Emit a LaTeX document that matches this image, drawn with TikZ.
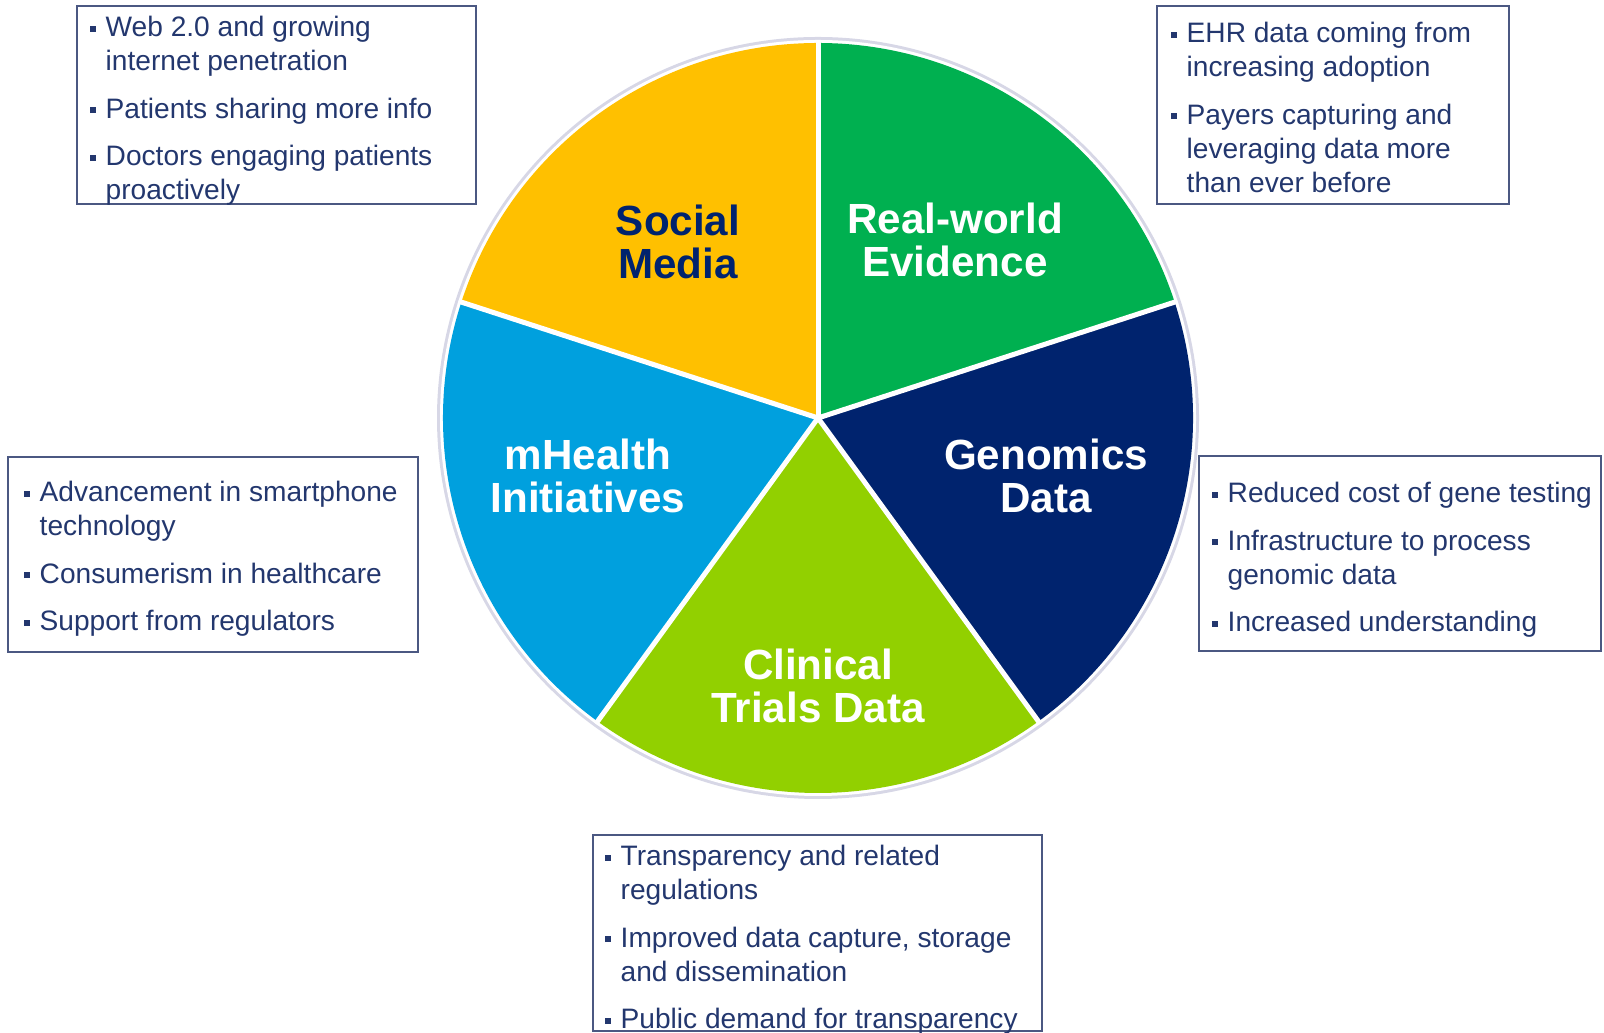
\documentclass[tikz,border=0pt]{standalone}
\usepackage{fontspec}
\setmainfont{Liberation Sans}

\definecolor{smyellow}{RGB}{255,192,0}
\definecolor{rwgreen}{RGB}{0,176,80}
\definecolor{gennavy}{RGB}{0,35,110}
\definecolor{ctlime}{RGB}{146,208,0}
\definecolor{mhblue}{RGB}{0,160,222}
\definecolor{notetext}{RGB}{35,55,110}
\definecolor{framecol}{RGB}{75,88,130}
\definecolor{rimgray}{RGB}{215,215,230}

% bullet and hanging indent for the note boxes
\newcommand{\itm}{\strut\makebox[1.6mm][l]{\rule[0.5mm]{0.6mm}{0.6mm}}}
\newcommand{\ind}{\strut\hspace*{1.6mm}}

\tikzset{
  slicelabel/.style={font=\fontsize{12}{12.4}\selectfont\bfseries,align=center,text=white},
  notes/.style={font=\fontsize{8}{9.7}\selectfont,align=left,text=notetext,inner sep=0,anchor=north west},
  frame/.style={draw=framecol,line width=0.7pt}
}

\begin{document}
\begin{tikzpicture}[x=0.1mm,y=0.1mm]
\useasboundingbox (0,0) rectangle (1604,1033);
\coordinate (c) at (818,615);

% pie
\fill[rimgray] (c) circle (381);
\fill[white] (c) circle (378);
\foreach \a/\col in {18/rwgreen,90/smyellow,162/mhblue,234/ctlime,306/gennavy}{
  \fill[\col] (c) -- ++(\a:375) arc (\a:\a+72:375) -- cycle;
}
\foreach \a in {18,90,162,234,306}{
  \draw[white,line width=0.5mm] (c) -- ++(\a:378);
}

\node[slicelabel,text=gennavy] (social) at (678,791) {Social\\Media};
\node[slicelabel] (rwe) at (955,793) {Real-world\\Evidence};
\node[slicelabel] (genomics) at (1046,557) {Genomics\\Data};
\node[slicelabel] (mhealth) at (588,557) {mHealth\\Initiatives};
\node[slicelabel] (clinical) at (818,347) {Clinical\\Trials Data};

% note boxes
\draw[frame] (77,1027) rectangle (476,829);
\node[notes] (socialnotes) at (89,1021) {\itm Web 2.0 and growing\\ \ind internet penetration\\[1.35mm]
  \itm Patients sharing more info\\[1.35mm]
  \itm Doctors engaging patients\\ \ind proactively};

\draw[frame] (1157,1027) rectangle (1509,829);
\node[notes] (rwenotes) at (1170,1015) {\itm EHR data coming from\\ \ind increasing adoption\\[1.35mm]
  \itm Payers capturing and\\ \ind leveraging data more\\ \ind than ever before};

\draw[frame] (8,576) rectangle (418,381);
\node[notes] (mhealthnotes) at (23,556) {\itm Advancement in smartphone\\ \ind technology\\[1.35mm]
  \itm Consumerism in healthcare\\[1.35mm]
  \itm Support from regulators};

\draw[frame] (1199,577) rectangle (1601,382);
\node[notes] (genomicsnotes) at (1211,555) {\itm Reduced cost of gene testing\\[1.35mm]
  \itm Infrastructure to process\\ \ind genomic data\\[1.35mm]
  \itm Increased understanding};

\draw[frame] (593,198) rectangle (1042,2);
\node[notes] (clinicalnotes) at (604,192) {\itm Transparency and related\\ \ind regulations\\[1.35mm]
  \itm Improved data capture, storage\\ \ind and dissemination\\[1.35mm]
  \itm Public demand for transparency};
\end{tikzpicture}
\end{document}
